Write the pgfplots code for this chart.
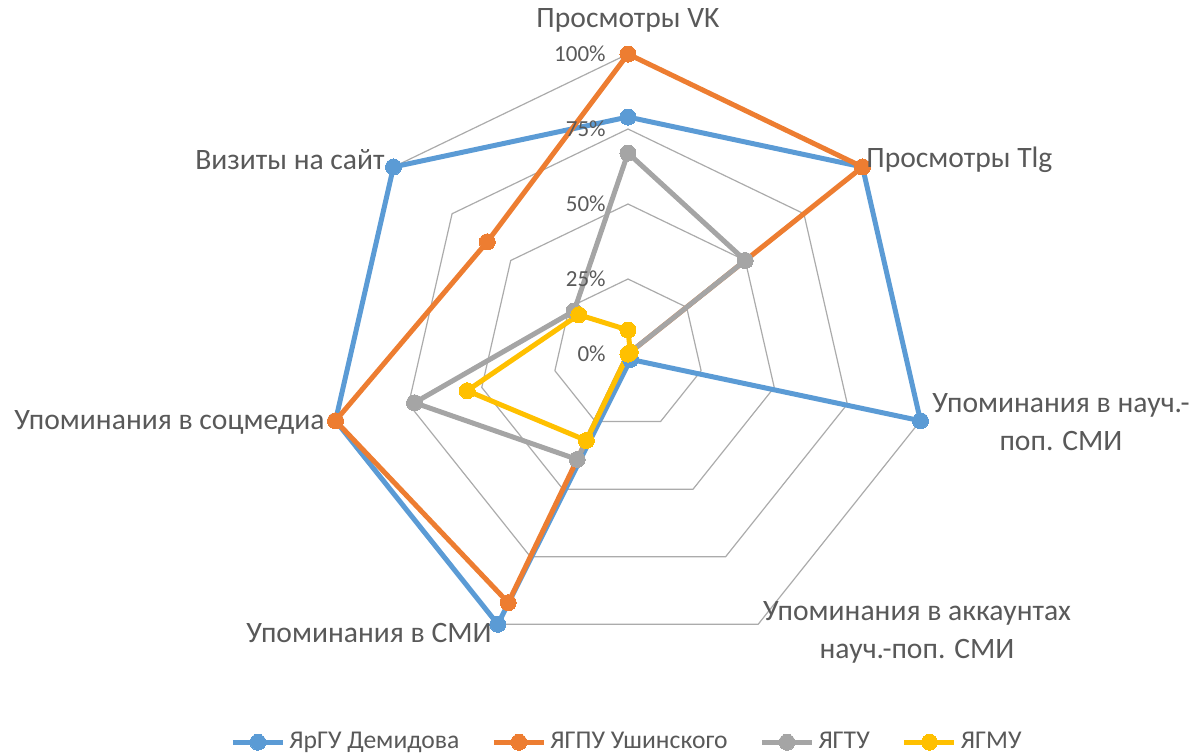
\documentclass[border=0pt]{standalone}
\usepackage{fontspec}
\setmainfont{Carlito}
\usepackage{pgfplots}
\usepgfplotslibrary{polar}
\pgfplotsset{compat=1.18}
\definecolor{cBlue}{HTML}{5B9BD5}
\definecolor{cOrange}{HTML}{ED7D31}
\definecolor{cGray}{HTML}{A5A5A5}
\definecolor{cYellow}{HTML}{FFC000}
\definecolor{cText}{HTML}{595959}
\definecolor{cGrid}{HTML}{ABABAB}
\begin{document}
\begin{tikzpicture}
\useasboundingbox (-314pt,-200.5pt) rectangle (284.5pt,177pt);
\begin{polaraxis}[
  at={(0,0)}, anchor=center,
  scale only axis, width=300pt, height=300pt,
  xmin=0, xmax=360, ymin=0, ymax=100,
  hide axis, clip=false,
  every axis plot/.append style={line width=2.5pt, mark=*, mark size=4pt, line join=round},
  legend columns=4,
  legend style={draw=none, fill=none, at={(0.5,-0.147)}, anchor=center,
    font=\fontsize{12.8pt}{15pt}\selectfont, text=cText,
    /tikz/every even column/.append style={column sep=14pt}},
  legend image code/.code={\draw[mark repeat=2,mark phase=2] plot coordinates {(0pt,0pt)(12.5pt,0pt)(25pt,0pt)};},
]
% grid rings
\foreach \r in {25,50,75,100}{
  \edef\tmp{\noexpand\addplot[forget plot, mark=none, line width=0.6pt, color=cGrid] coordinates {(90,\r)(38.5714,\r)(-12.8571,\r)(-64.2857,\r)(-115.7143,\r)(-167.1429,\r)(141.4286,\r)(90,\r)};}
  \tmp
}
% ЯрГУ Демидова
\addplot[color=cBlue, mark options={fill=cBlue, draw=cBlue, line width=0pt}] coordinates {
(90,79)(38.5714,100)(-12.8571,100)(-64.2857,2)(-115.7143,100)(-167.1429,100)(141.4286,100)(90,79)};
\addlegendentry{ЯрГУ Демидова}
% ЯГПУ Ушинского
\addplot[color=cOrange, mark options={fill=cOrange, draw=cOrange, line width=0pt}] coordinates {
(90,100)(38.5714,100)(-12.8571,0)(-64.2857,0)(-115.7143,92)(-167.1429,100)(141.4286,60)(90,100)};
\addlegendentry{ЯГПУ Ушинского}
% ЯГТУ
\addplot[color=cGray, mark options={fill=cGray, draw=cGray, line width=0pt}] coordinates {
(90,67)(38.5714,50)(-12.8571,0)(-64.2857,0)(-115.7143,39)(-167.1429,73)(141.4286,23)(90,67)};
\addlegendentry{ЯГТУ}
% ЯГМУ
\addplot[color=cYellow, mark options={fill=cYellow, draw=cYellow, line width=0pt}] coordinates {
(90,8)(38.5714,1)(-12.8571,0)(-64.2857,0)(-115.7143,32)(-167.1429,55)(141.4286,21)(90,8)};
\addlegendentry{ЯГМУ}
\end{polaraxis}
\begin{scope}[every node/.style={text=cText, font=\fontsize{14.8pt}{19pt}\selectfont, inner sep=0pt}]
\node at (0pt,167pt) {Просмотры VK};
\node[anchor=west] at (119pt,97pt) {Просмотры Tlg};
\node[align=center] at (216.5pt,-34.25pt) {Упоминания в науч.-\\поп. СМИ};
\node[align=center] at (144.5pt,-139.25pt) {Упоминания в аккаунтах\\науч.-поп. СМИ};
\node[anchor=east] at (-68pt,-139.5pt) {Упоминания в СМИ};
\node[anchor=east] at (-151.5pt,-34pt) {Упоминания в соцмедиа};
\node[anchor=east] at (-121.5pt,97pt) {Визиты на сайт};
\end{scope}
\begin{scope}[every node/.style={text=cText, font=\fontsize{11.5pt}{13pt}\selectfont, inner sep=0pt, anchor=east}]
\node at (-11pt,150pt) {100\%};
\node at (-11pt,112.5pt) {75\%};
\node at (-11pt,75pt) {50\%};
\node at (-11pt,37.5pt) {25\%};
\node at (-11pt,0pt) {0\%};
\end{scope}
\end{tikzpicture}
\end{document}
